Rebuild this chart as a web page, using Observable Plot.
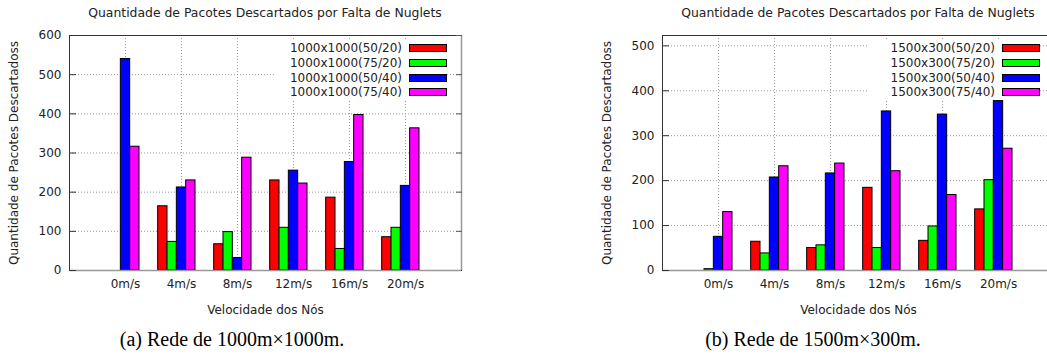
<!DOCTYPE html>
<html>
<head>
<meta charset="utf-8">
<script src="https://cdn.jsdelivr.net/npm/d3@7"></script>
<script src="https://cdn.jsdelivr.net/npm/@observablehq/plot@0.6"></script>
<style>
  html, body { margin: 0; padding: 0; background: #fff; }
  #page { position: relative; width: 1047px; height: 356px; overflow: hidden; font-family: "DejaVu Sans", sans-serif; color: #222; }
  .chart { position: absolute; top: 0; overflow: visible; }
  .title { position: absolute; top: 5px; font-size: 12.4px; white-space: nowrap; transform: translateX(-50%); color: #222; }
  .legend { position: absolute; background: #fff; font-size: 12px; color: #222; }
  .legend .row { display: flex; align-items: center; justify-content: flex-end; height: 14.7px; }
  .legend .sw { width: 36px; height: 6px; border: 1px solid #000; margin-left: 7px; }
  .caption { position: absolute; top: 328px; font-family: "Liberation Serif", "Times New Roman", serif; font-size: 20px; color: #000; white-space: nowrap; transform: translateX(-50%); }
</style>
</head>
<body>
<div id="page"></div>
<script>
// ---- data ----
const categories = ["0m/s", "4m/s", "8m/s", "12m/s", "16m/s", "20m/s"];
const colors = ["#ff0000", "#00ff00", "#0000ff", "#ff00ff"];

const seriesA = ["1000x1000(50/20)", "1000x1000(75/20)", "1000x1000(50/40)", "1000x1000(75/40)"];
const a_50_20 = [0, 164, 67, 230, 186, 85];
const a_75_20 = [0, 73, 98, 109, 55, 109];
const a_50_40 = [540, 212, 32, 255, 277, 216];
const a_75_40 = [316, 230, 288, 222, 397, 363];
const yTicksA = [0, 100, 200, 300, 400, 500, 600];

const seriesB = ["1500x300(50/20)", "1500x300(75/20)", "1500x300(50/40)", "1500x300(75/40)"];
const b_50_20 = [0, 64, 50, 184, 66, 136];
const b_75_20 = [3, 38, 56, 50, 98, 201];
const b_50_40 = [75, 207, 216, 354, 347, 377];
const b_75_40 = [130, 232, 238, 221, 168, 271];
const yTicksB = [0, 100, 200, 300, 400, 500];

const titleText = "Quantidade de Pacotes Descartados por Falta de Nuglets";
const yLabel = "Quantidade de Pacotes Descartadoss";
const xLabel = "Velocidade dos Nós";
const captionA = "(a) Rede de 1000m×1000m.";
const captionB = "(b) Rede de 1500m×300m.";

function rowsOf(series, lists) {
  const rows = [];
  lists.forEach((vals, k) => vals.forEach((v, i) => {
    if (v > 0) rows.push({i, k, series: series[k], value: v});
  }));
  return rows;
}

function makeChart({series, lists, yDomain, yTicks, width, marginLeft, marginRight}) {
  const rows = rowsOf(series, lists);
  const idx = categories.map((_, i) => i);
  const barW = 1 / 6;
  return Plot.plot({
    width, height: 320,
    marginLeft, marginRight, marginTop: 35, marginBottom: 50,
    style: {fontFamily: "DejaVu Sans, sans-serif", fontSize: "12px", color: "#222", background: "transparent", overflow: "visible"},
    x: {domain: [-1, categories.length], axis: null},
    y: {domain: yDomain, axis: null},
    color: {domain: series, range: colors},
    marks: [
      Plot.gridY(yTicks.slice(1), {stroke: "#999", strokeOpacity: 1, strokeDasharray: "1,2"}),
      Plot.gridX(idx, {stroke: "#999", strokeOpacity: 1, strokeDasharray: "1,2"}),
      Plot.rectY(rows, {
        x1: d => d.i + (d.k - 2.5) * barW,
        x2: d => d.i + (d.k - 1.5) * barW,
        y: "value",
        fill: "series",
        stroke: "#000",
        strokeWidth: 1
      }),
      Plot.frame({stroke: "#333"}),
      Plot.ruleX([categories.length], {stroke: "#999", strokeWidth: 1.5}),
      Plot.ruleY([0], {stroke: "#999", strokeWidth: 1.5}),
      Plot.axisY(yTicks, {anchor: "left", tickSize: -7, tickPadding: 15, stroke: "#333",
        label: yLabel, labelAnchor: "center", labelOffset: 60, labelArrow: "none"}),
      Plot.axisY(yTicks.slice(1), {anchor: "right", tickSize: -6, stroke: "#555", fill: "none", label: null}),
      Plot.axisX(idx, {anchor: "bottom", tickSize: 0, tickPadding: 9, tickFormat: i => categories[i],
        label: xLabel, labelAnchor: "center", labelOffset: 43, labelArrow: "none"})
    ]
  });
}

const page = document.getElementById("page");

function place(node, left) {
  node.classList.add("chart");
  node.style.left = left + "px";
  page.appendChild(node);
}

function addDiv(cls, html, css) {
  const d = document.createElement("div");
  d.className = cls;
  d.innerHTML = html;
  Object.assign(d.style, css);
  page.appendChild(d);
  return d;
}

function addLegend(series, css) {
  const d = document.createElement("div");
  d.className = "legend";
  Object.assign(d.style, css);
  series.forEach((s, k) => {
    const r = document.createElement("div");
    r.className = "row";
    const t = document.createElement("span");
    t.textContent = s;
    const sw = document.createElement("span");
    sw.className = "sw";
    sw.style.background = colors[k];
    r.appendChild(t); r.appendChild(sw);
    d.appendChild(r);
  });
  page.appendChild(d);
}

place(makeChart({series: seriesA, lists: [a_50_20, a_75_20, a_50_40, a_75_40],
  yDomain: [0, 600], yTicks: yTicksA, width: 480, marginLeft: 69, marginRight: 19}), 0);
place(makeChart({series: seriesB, lists: [b_50_20, b_75_20, b_50_40, b_75_40],
  yDomain: [0, 523], yTicks: yTicksB, width: 540, marginLeft: 122, marginRight: 26}), 540);

addDiv("title", titleText, {left: "265px"});
addDiv("title", titleText, {left: "858px"});

addLegend(seriesA, {left: "276px", top: "41px", width: "171px"});
addLegend(seriesB, {left: "868px", top: "41px", width: "172px"});

addDiv("caption", captionA, {left: "232px"});
addDiv("caption", captionB, {left: "813px"});
</script>
</body>
</html>
